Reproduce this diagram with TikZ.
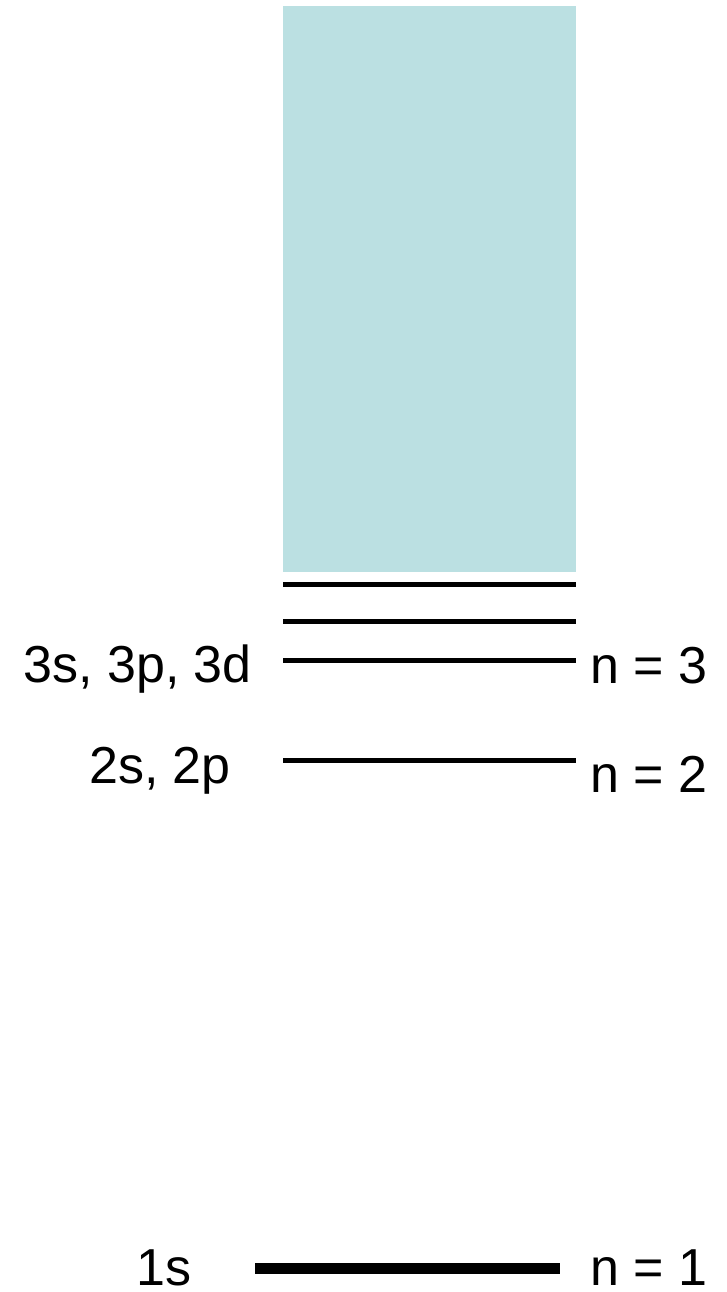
\documentclass[tikz,border=0pt]{standalone}
\usepackage{fontspec}
\setmainfont{Liberation Sans}
\definecolor{contcol}{RGB}{187,224,226}
\begin{document}
\begin{tikzpicture}[x=1pt,y=-1pt,
  lbl/.style={inner sep=0pt,font=\fontsize{52}{62}\selectfont},
  lvl/.style={line width=5pt},
  ground/.style={line width=11pt}]
\useasboundingbox (0,0) rectangle (727,1292);
% continuum
\fill[contcol] (283,6) rectangle (576,572);
% levels
\coordinate (a1) at (283,584); \coordinate (a2) at (576,584);
\coordinate (b1) at (283,621); \coordinate (b2) at (576,621);
\coordinate (c1) at (283,660); \coordinate (c2) at (576,660);
\coordinate (d1) at (283,760); \coordinate (d2) at (576,760);
\coordinate (e1) at (255,1268.5); \coordinate (e2) at (560,1268.5);
\draw[lvl] (a1) -- (a2);
\draw[lvl] (b1) -- (b2);
\draw[lvl] (c1) -- (c2);
\draw[lvl] (d1) -- (d2);
\draw[ground] (e1) -- (e2);
% labels
\node[lbl,anchor=base east] (l3) at (252,682) {3s, 3p, 3d};
\node[lbl,anchor=base east] (l2) at (231,783) {2s, 2p};
\node[lbl,anchor=base east] (l1) at (192,1285) {1s};
\node[lbl,anchor=base west] (n3) at (590,683) {n = 3};
\node[lbl,anchor=base west] (n2) at (590,792) {n = 2};
\node[lbl,anchor=base west] (n1) at (590,1285) {n = 1};
\end{tikzpicture}
\end{document}
